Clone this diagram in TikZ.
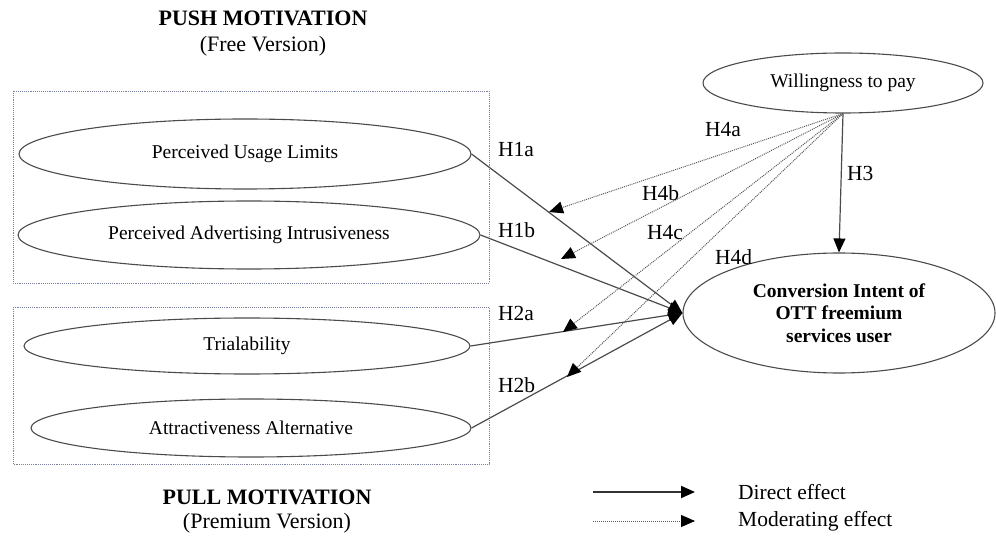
\documentclass[tikz,border=0pt]{standalone}
\usepackage{fontspec}
\setmainfont{Liberation Serif}
\usetikzlibrary{shapes.geometric,arrows.meta}
\definecolor{boxc}{RGB}{125,130,165}
\definecolor{linec}{RGB}{75,75,75}
\begin{document}
\begin{tikzpicture}[x=1pt,y=-1pt,
  ell/.style={draw=linec, line width=1.1pt, ellipse, inner sep=0pt, font=\fontsize{19.5}{22}\selectfont},
  tip/.style={-{Triangle[length=14pt,width=12pt,color=black]}},
  direct/.style={draw=linec, line width=1.2pt, tip},
  moder/.style={draw=black!65, line width=1pt, densely dotted, tip},
  lbl/.style={font=\fontsize{21.5}{24}\selectfont, inner sep=0pt, anchor=west},
  head/.style={font=\fontsize{22}{24}\selectfont\bfseries, inner sep=0pt},
  sub/.style={font=\fontsize{22}{24}\selectfont, inner sep=0pt},
  grp/.style={draw=boxc, densely dotted, line width=0.9pt}]
\useasboundingbox (0,0) rectangle (996,537);

% group boxes
\draw[grp] (13,91) rectangle (489,283);
\draw[grp] (13,307) rectangle (489,464);

% headers
\node[head] (pushh) at (263,18) {PUSH MOTIVATION};
\node[sub] (pushs) at (263,46) {(Free Version)};
\node[head] (pullh) at (267,497) {PULL MOTIVATION};
\node[sub] (pulls) at (267,523) {(Premium Version)};

% ellipses
\node[ell, minimum width=452pt, minimum height=70pt] (pul) at (245,154) {Perceived Usage Limits};
\node[ell, minimum width=462pt, minimum height=68pt] (pai) at (249,235) {Perceived Advertising Intrusiveness};
\node[ell, minimum width=446pt, minimum height=56pt] (tri) at (247,346) {Trialability};
\node[ell, minimum width=440pt, minimum height=58pt] (att) at (251,428) {Attractiveness Alternative};
\node[ell, minimum width=280pt, minimum height=60pt] (wtp) at (843,83) {Willingness to pay};
\node[ell, minimum width=312pt, minimum height=120pt, align=center,
      font=\fontsize{19.5}{22.5}\selectfont\bfseries] (conv) at (839,313)
      {Conversion Intent of\\OTT freemium\\services user};

% direct effects
\draw[direct] (pul.east) -- (conv.west);
\draw[direct] (pai.east) -- (conv.west);
\draw[direct] (tri.east) -- (conv.west);
\draw[direct] (att.east) -- (conv.west);
\draw[direct] (wtp.south) -- (conv.north);

% moderating targets
\coordinate (t4a) at (549,212);
\coordinate (t4b) at (561,259);
\coordinate (t4c) at (563,332);
\coordinate (t4d) at (567,377);
\draw[moder] (wtp.south) -- (t4a);
\draw[moder] (wtp.south) -- (t4b);
\draw[moder] (wtp.south) -- (t4c);
\draw[moder] (wtp.south) -- (t4d);

% labels
\node[lbl] (h1a) at (498,150) {H1a};
\node[lbl] (h1b) at (498,230) {H1b};
\node[lbl] (h2a) at (498,313) {H2a};
\node[lbl] (h2b) at (498,385) {H2b};
\node[lbl] (h3) at (847,173) {H3};
\node[lbl] (h4a) at (705,130) {H4a};
\node[lbl] (h4b) at (642,193) {H4b};
\node[lbl] (h4c) at (647,233) {H4c};
\node[lbl] (h4d) at (715,257) {H4d};

% legend
\coordinate (la1) at (593,492);
\coordinate (la2) at (695,492);
\coordinate (lb1) at (593,521);
\coordinate (lb2) at (695,521);
\draw[direct, line width=1.8pt, draw=black!80] (la1) -- (la2);
\draw[moder] (lb1) -- (lb2);
\node[lbl] (ld) at (738,492) {Direct effect};
\node[lbl] (lm) at (738,521) {Moderating effect};
\end{tikzpicture}
\end{document}
